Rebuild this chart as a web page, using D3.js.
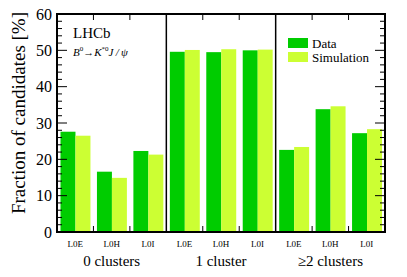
<!DOCTYPE html>
<html>
<head>
<meta charset="utf-8">
<script src="https://cdn.jsdelivr.net/npm/d3@7"></script>
<style>
  body { margin: 0; background: #fff; }
  svg text { font-family: "Liberation Serif", "Times New Roman", Times, serif; fill: #000; }
</style>
</head>
<body>
<svg id="chart" width="407" height="277"></svg>
<script>
// values
var groups = ["0 clusters", "1 cluster", "\u22652 clusters"];
var triggers = ["L0E", "L0H", "L0I"];
var dataVals = [27.6, 16.6, 22.3, 49.6, 49.5, 50.0, 22.6, 33.8, 27.2];
var simVals  = [26.5, 14.9, 21.3, 50.1, 50.3, 50.2, 23.4, 34.6, 28.3];
var yTicks = [0, 10, 20, 30, 40, 50, 60];

var svg = d3.select("#chart"),
    margin = {top: 14, right: 22, bottom: 45, left: 57},
    width = +svg.attr("width") - margin.left - margin.right,
    height = +svg.attr("height") - margin.top - margin.bottom,
    g = svg.append("g").attr("transform", "translate(" + margin.left + "," + margin.top + ")");

var cats = [];
groups.forEach(function(gr, i) {
  triggers.forEach(function(t, j) { cats.push({group: gr, trig: t, i: i * 3 + j}); });
});

var x = d3.scaleBand()
    .domain(cats.map(function(d) { return d.i; }))
    .range([0, width]);

var inner = d3.scaleBand()
    .domain(["data", "sim"])
    .range([3.5, x.bandwidth() - 3])
    .padding(0);

var y = d3.scaleLinear()
    .domain([0, 60])
    .range([height, 0]);

var z = d3.scaleOrdinal()
    .domain(["data", "sim"])
    .range(["#00cc00", "#ccff33"]);

// bars
var cat = g.append("g").selectAll("g")
  .data(cats)
  .enter().append("g")
    .attr("transform", function(d) { return "translate(" + x(d.i) + ",0)"; });

cat.selectAll("rect")
  .data(function(d) { return [{k: "data", v: dataVals[d.i]}, {k: "sim", v: simVals[d.i]}]; })
  .enter().append("rect")
    .attr("x", function(d) { return inner(d.k); })
    .attr("width", inner.bandwidth())
    .attr("y", function(d) { return y(d.v); })
    .attr("height", function(d) { return height - y(d.v); })
    .attr("fill", function(d) { return z(d.k); });

// y axis ticks, both sides, inward
var minor = d3.range(0, 61, 2);
function yTicksAt(side) {
  var ax = g.append("g");
  ax.selectAll("line")
    .data(minor)
    .enter().append("line")
      .attr("x1", side === "left" ? 0 : width)
      .attr("x2", function(d) {
        var len = d % 10 === 0 ? 10 : 5;
        return side === "left" ? len : width - len;
      })
      .attr("y1", function(d) { return y(d); })
      .attr("y2", function(d) { return y(d); })
      .attr("stroke", "#000")
      .attr("stroke-width", 1);
}
yTicksAt("left");
yTicksAt("right");

g.append("g").selectAll("text")
  .data(yTicks)
  .enter().append("text")
    .attr("x", -5)
    .attr("y", function(d) { return y(d); })
    .attr("dy", "0.35em")
    .attr("text-anchor", "end")
    .attr("font-size", 16)
    .text(function(d) { return d; });

// ticks at category boundaries, top and bottom
var bounds = d3.range(1, 9).filter(function(b) { return b % 3 !== 0; });
g.append("g").selectAll("line")
  .data(bounds)
  .enter().append("line")
    .attr("x1", function(d) { return x(d); })
    .attr("x2", function(d) { return x(d); })
    .attr("y1", 0)
    .attr("y2", 6)
    .attr("stroke", "#000");
g.append("g").selectAll("line")
  .data(bounds)
  .enter().append("line")
    .attr("x1", function(d) { return x(d); })
    .attr("x2", function(d) { return x(d); })
    .attr("y1", height)
    .attr("y2", height - 6)
    .attr("stroke", "#000");

// panel separators
g.append("g").selectAll("line")
  .data([3, 6])
  .enter().append("line")
    .attr("x1", function(d) { return x(d); })
    .attr("x2", function(d) { return x(d); })
    .attr("y1", 0)
    .attr("y2", height)
    .attr("stroke", "#000")
    .attr("stroke-width", 1.5);

// frame
g.append("rect")
    .attr("width", width)
    .attr("height", height)
    .attr("fill", "none")
    .attr("stroke", "#000")
    .attr("stroke-width", 2);

// category labels
g.append("g").selectAll("text")
  .data(cats)
  .enter().append("text")
    .attr("x", function(d) { return x(d.i) + x.bandwidth() / 2; })
    .attr("y", height + 15)
    .attr("text-anchor", "middle")
    .attr("font-size", 9)
    .text(function(d) { return d.trig; });

g.append("g").selectAll("text")
  .data(groups)
  .enter().append("text")
    .attr("x", function(d, i) { return x(i * 3) + x.bandwidth() * 1.5; })
    .attr("y", height + 34)
    .attr("text-anchor", "middle")
    .attr("font-size", 15)
    .text(function(d) { return d; });

// y title
svg.append("text")
    .attr("transform", "translate(25,113) rotate(-90)")
    .attr("text-anchor", "middle")
    .attr("font-size", 19)
    .text("Fraction of candidates [%]");

// LHCb label
g.append("text")
    .attr("x", 16)
    .attr("y", 24)
    .attr("font-size", 15)
    .text("LHCb");

var decay = g.append("text")
    .attr("x", 16)
    .attr("y", 42)
    .attr("font-size", 11)
    .attr("font-style", "italic");
decay.append("tspan").text("B");
decay.append("tspan").attr("dy", -5).attr("font-size", 7).attr("font-style", "normal").text("0");
decay.append("tspan").attr("dy", 5).attr("font-style", "normal").text("\u2192");
decay.append("tspan").text("K");
decay.append("tspan").attr("dy", -5).attr("font-size", 7).attr("font-style", "normal").text("*0");
decay.append("tspan").attr("dy", 5).text("J\u2009/\u2009\u03c8");

// legend
var legend = g.append("g")
  .selectAll("g")
  .data([{k: "data", label: "Data"}, {k: "sim", label: "Simulation"}])
  .enter().append("g")
    .attr("transform", function(d, i) { return "translate(231," + (24 + i * 14) + ")"; });

legend.append("rect")
    .attr("width", 20)
    .attr("height", 10)
    .attr("fill", function(d) { return z(d.k); });

legend.append("text")
    .attr("x", 24)
    .attr("y", 5)
    .attr("dy", "0.35em")
    .attr("font-size", 13)
    .text(function(d) { return d.label; });
</script>
</body>
</html>
